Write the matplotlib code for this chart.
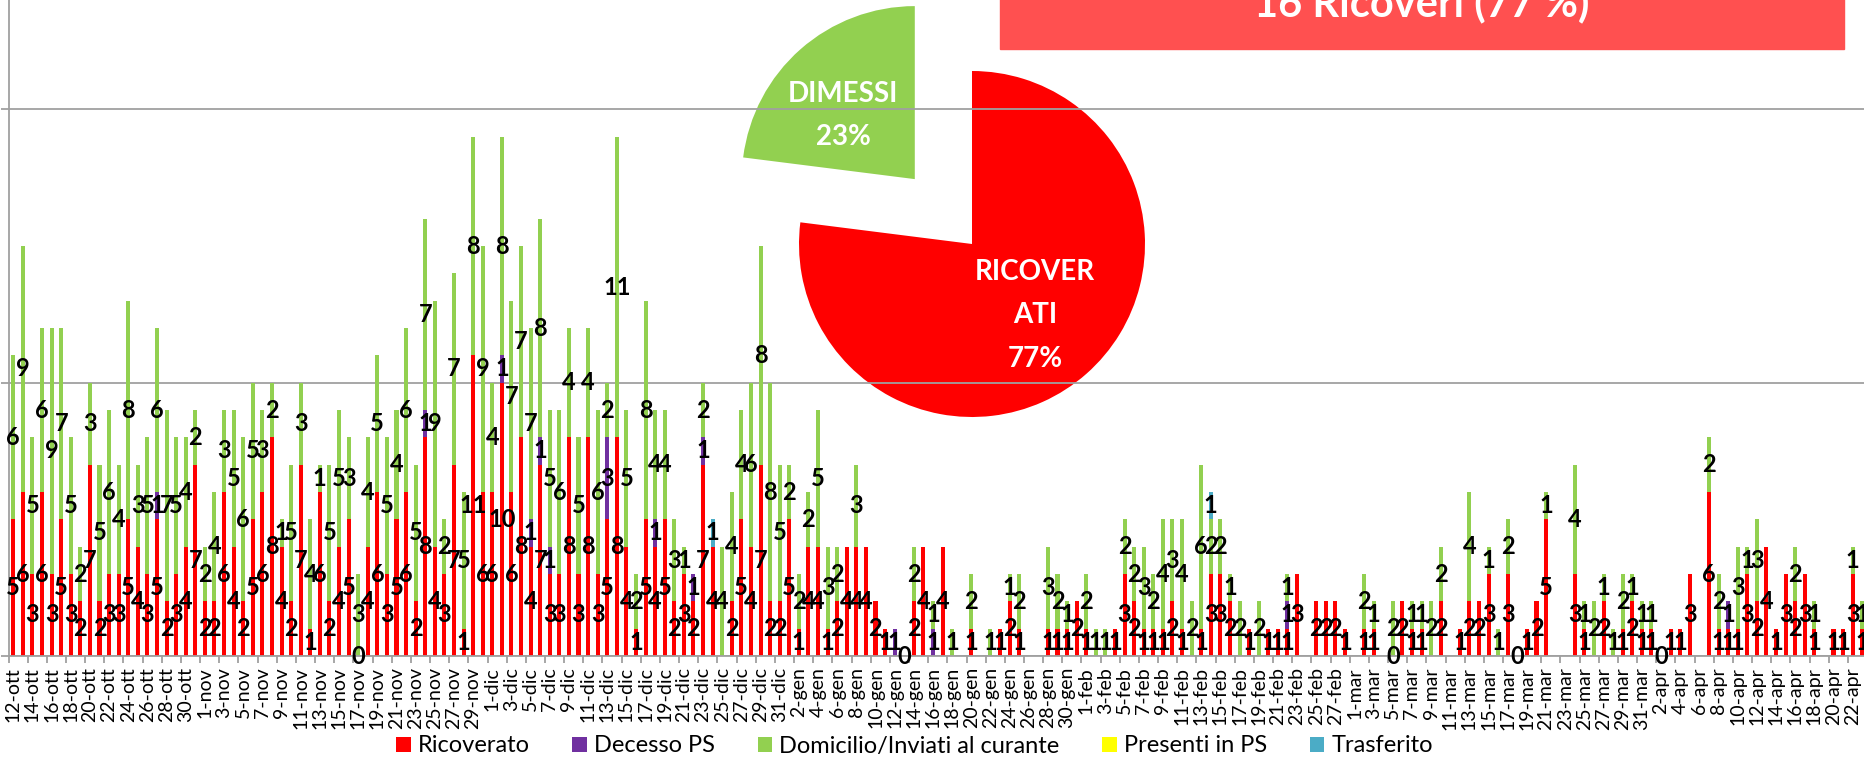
import numpy as np
import pandas as pd
import matplotlib
matplotlib.use('Agg')
import matplotlib.pyplot as plt
from matplotlib.patches import Rectangle

plt.rcParams['font.family'] = ['Lato', 'DejaVu Sans']

# giorni dal 12 ottobre al 23 aprile (etichette asse x)
giorni = pd.date_range('2020-10-12', '2021-04-23')
mesi = {10: 'ott', 11: 'nov', 12: 'dic', 1: 'gen', 2: 'feb', 3: 'mar', 4: 'apr'}
etichette = [f'{d.day}-{mesi[d.month]}' for d in giorni]

N = None
ricoverato = (
    [5, 6, 3, 6, 3, 5, 3, 2, 7, 2, 3, 3, 5, 4, 3, 5, 2, 3, 4, 7]  # ott
    + [2, 2, 6, 4, 2, 5, 6, 8, 4, 2, 7, 1, 6, 2, 4, 5, 0, 4, 6, 3,
       5, 6, 2, 8, 4, 3, 7, 1, 11, 6]  # nov
    + [6, 10, 6, 8, 4, 7, 3, 3, 8, 3, 8, 3, 5, 8, 4, 1, 5, 4, 5, 2,
       3, 2, 7, 4, N, 2, 5, 4, 7, 2, 2]  # dic
    + [5, 1, 4, 4, 1, 2, 4, 4, 4, 2, 1, N, 0, 2, 4, N, 4, N, N, 1,
       N, N, 1, 2, 1, N, N, 1, 1, 1, 2]  # gen
    + [1, N, N, 1, 3, 2, 1, 1, 1, 2, 1, N, 1, 3, 3, 2, N, 1, N, 1,
       1, 1, 3, N, 2, 2, 2, 1]  # feb
    + [N, 1, 1, N, 0, 2, 1, 1, N, 2, N, 1, 2, 2, 3, N, 3, 0, 1, 2,
       5, N, N, 3, 1, N, 2, N, 1, 2, 1]  # mar
    + [1, 0, 1, 1, 3, N, 6, 1, 1, 1, 3, 2, 4, 1, 3, 2, 3, 1, N, 1,
       1, 3, 1]  # apr
)

domicilio = (
    [6, 9, 5, 6, 9, 7, 5, 2, 3, 5, 6, 4, 8, 3, 5, 6, 7, 5, 4, 2]
    + [2, 4, 3, 5, 6, 5, 3, 2, 1, 5, 3, 4, 1, 5, 5, 3, 3, 4, 5, 5,
       4, 6, 5, 7, 9, 2, 7, 5, 8, 9]
    + [4, 8, 7, 7, 7, 8, 5, 6, 4, 5, 4, 6, 2, 11, 5, 2, 8, 4, 4, 3,
       1, N, 2, N, 4, 4, 4, 6, 8, 8, 5]
    + [2, 2, 2, 5, 3, 2, N, 3, N, N, N, N, N, 2, N, 1, N, 1, N, 2,
       N, 1, N, 1, 2, N, N, 3, 2, 1, N]
    + [2, 1, 1, N, 2, 2, 3, 2, 4, 3, 4, 2, 6, 2, 2, 1, 2, N, 2, N,
       N, 1, N, N, N, N, N, N]
    + [N, 2, 1, N, 2, N, 1, 1, 2, 2, N, N, 4, N, 1, 1, 2, N, N, N,
       1, N, N, 4, 1, 2, 1, 1, 2, 1, 1]
    + [1, N, N, N, N, N, 2, 2, N, 3, 1, 3, N, N, N, 2, N, 1, N, N,
       N, 1, 1]
)

decesso_giorni = ['27-ott', '24-nov', '2-dic', '5-dic', '6-dic', '7-dic', '13-dic',
                  '18-dic', '22-dic', '23-dic', '12-gen', '16-gen', '22-feb', '9-apr']
decesso_val = [1, 1, 1, 1, 1, 1, 3, 1, 1, 1, 1, 1, 1, 1]
presenti_giorni = []
presenti_val = []
trasferito_giorni = ['24-dic', '14-feb']
trasferito_val = [1, 1]

pie_nomi = ['DIMESSI', 'RICOVER\nATI']
pie_val = [23, 77]


def sparsa(gg, vv):
    out = np.full(len(etichette), np.nan)
    for g, v in zip(gg, vv):
        out[etichette.index(g)] = v
    return out


def densa(vv):
    return np.array([np.nan if v is None else v for v in vv], dtype=float)


serie = [
    ('Ricoverato', densa(ricoverato), '#FF0000'),
    ('Decesso PS', sparsa(decesso_giorni, decesso_val), '#7030A0'),
    ('Domicilio/Inviati al curante', densa(domicilio), '#92D050'),
    ('Presenti in PS', sparsa(presenti_giorni, presenti_val), '#FFFF00'),
    ('Trasferito', sparsa(trasferito_giorni, trasferito_val), '#4BACC6'),
]

W, H = 1864, 757
fig = plt.figure(figsize=(W / 100, H / 100), dpi=100)
ax = fig.add_axes([8.5 / W, 101 / H, 194 * 9.58 / W, 656 / H])
ax.set_zorder(2)
ax.patch.set_alpha(0)

x = np.arange(len(etichette))
base = np.zeros(len(x))
handles = []
for nome, vals, col in serie:
    h = np.nan_to_num(vals)
    bc = ax.bar(x, h, 0.42, bottom=base, color=col, label=nome, linewidth=0)
    lab = ['' if np.isnan(v) else f'{v:.0f}' for v in vals]
    ax.bar_label(bc, labels=lab, label_type='center', fontsize=17,
                 fontweight='bold', color='black')
    base += h
    handles.append(bc)

grigio = '#A0A0A0'
ax.set_xlim(-0.5, len(x) - 0.5)
ax.set_ylim(0, 24)
ax.set_yticks([0, 10, 20])
ax.set_yticklabels([])
ax.yaxis.grid(True, color=grigio, linewidth=1.3)
ax.set_axisbelow(True)
for s in ['top', 'right']:
    ax.spines[s].set_visible(False)
for s in ['left', 'bottom']:
    ax.spines[s].set_color(grigio)
    ax.spines[s].set_linewidth(1.3)
ax.set_xticks(x[::2])
ax.set_xticklabels(etichette[::2], rotation=90, fontsize=14)
ax.set_xticks(np.arange(-0.5, len(x), 2), minor=True)
ax.tick_params(axis='x', which='major', length=0, pad=8)
ax.tick_params(axis='x', which='minor', length=5, color=grigio, width=1.3)
ax.tick_params(axis='y', length=6, color=grigio, width=1.3)

# torta
r_px = 173
cx, cy = 972, 244
lato = 3.2 * r_px
axp = fig.add_axes([(cx - lato / 2) / W, (H - cy - lato / 2) / H, lato / W, lato / H])
axp.set_zorder(1)
_, testi = axp.pie(pie_val, labels=[f'{n}\n{v}%' for n, v in zip(pie_nomi, pie_val)],
                   colors=['#92D050', '#FF0000'], explode=[0.5, 0], startangle=90,
                   labeldistance=0.55, wedgeprops=dict(linewidth=0),
                   textprops=dict(color='white', fontsize=20, fontweight='bold',
                                  linespacing=1.85))
for t in testi:
    t.set_ha('center')
    t.set_va('center')
# etichetta DIMESSI un po' piu' in basso a sinistra, come in Excel
tx, ty = testi[0].get_position()
testi[0].set_position((tx - 0.05, ty - 0.045))
axp.set_xlim(-1.6, 1.6)
axp.set_ylim(-1.6, 1.6)
axp.set_aspect('equal')
axp.axis('off')

# riquadro titolo
fig.add_artist(Rectangle((1000 / W, (H - 49) / H), 844 / W, 49 / H + 0.01,
                         transform=fig.transFigure, color='#FF5050', zorder=3))
fig.text(1422 / W, 1 - 16 / H, '16 Ricoveri (77 %)', ha='center', va='baseline',
         color='white', fontsize=30, fontweight='bold', zorder=4)

fig.legend(handles, [s[0] for s in serie], loc='center', bbox_to_anchor=(914.5 / W, 11 / H),
           ncol=5, frameon=False, fontsize=17, handlelength=0.62, handleheight=0.62,
           handletextpad=0.3, columnspacing=1.8)

fig.savefig('out.png', dpi=100)
